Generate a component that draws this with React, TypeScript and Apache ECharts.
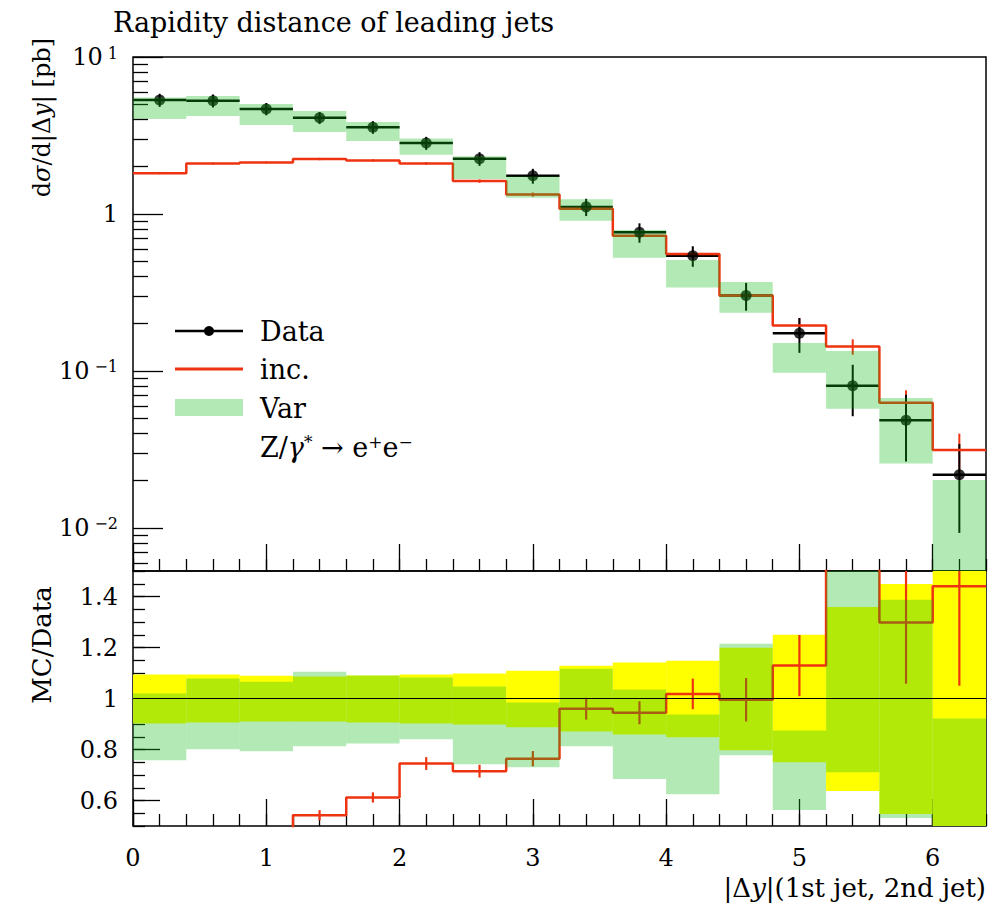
import React, { useEffect, useRef } from "react";
import * as echarts from "echarts";

// ---------------- data ----------------
const binLow = [0.0, 0.4, 0.8, 1.2, 1.6, 2.0, 2.4, 2.8, 3.2, 3.6, 4.0, 4.4, 4.8, 5.2, 5.6, 6.0];
const binHigh = [0.4, 0.8, 1.2, 1.6, 2.0, 2.4, 2.8, 3.2, 3.6, 4.0, 4.4, 4.8, 5.2, 5.6, 6.0, 6.4];
const binCenter = [0.2, 0.6, 1.0, 1.4, 1.8, 2.2, 2.6, 3.0, 3.4, 3.8, 4.2, 4.6, 5.0, 5.4, 5.8, 6.2];

const dataY = [5.32, 5.27, 4.67, 4.10, 3.57, 2.83, 2.25, 1.75, 1.11, 0.764, 0.542, 0.303, 0.174, 0.0805, 0.0485, 0.0218];
const dataErr = [0.51, 0.50, 0.42, 0.36, 0.33, 0.27, 0.225, 0.19, 0.14, 0.108, 0.081, 0.061, 0.0435, 0.029, 0.022, 0.0125];
const incY = [1.82, 2.10, 2.13, 2.24, 2.19, 2.10, 1.62, 1.33, 1.08, 0.728, 0.556, 0.302, 0.195, 0.143, 0.0628, 0.0314];
const incErr = [0.03, 0.03, 0.03, 0.04, 0.04, 0.04, 0.04, 0.04, 0.045, 0.035, 0.033, 0.026, 0.021, 0.016, 0.0125, 0.0085];
const varLow = [4.03, 4.21, 3.69, 3.33, 2.92, 2.38, 1.67, 1.27, 0.906, 0.527, 0.340, 0.235, 0.0975, 0.0575, 0.0257, 0.0005];
const varHigh = [5.53, 5.64, 5.02, 4.53, 3.86, 3.03, 2.33, 1.73, 1.24, 0.791, 0.509, 0.369, 0.151, 0.134, 0.0673, 0.0202];

// ratio panel (MC/Data)
const dataRelLow = [0.902, 0.906, 0.910, 0.910, 0.906, 0.902, 0.898, 0.887, 0.871, 0.859, 0.848, 0.797, 0.750, 0.637, 0.547, 0.430];
const dataRelHigh = [1.094, 1.094, 1.089, 1.086, 1.090, 1.094, 1.098, 1.109, 1.128, 1.141, 1.148, 1.199, 1.250, 1.359, 1.449, 1.570];
const varRatioLow = [0.758, 0.801, 0.793, 0.8125, 0.824, 0.840, 0.742, 0.730, 0.8125, 0.684, 0.625, 0.777, 0.5625, 0.711, 0.531, 0.0];
const varRatioHigh = [1.020, 1.078, 1.066, 1.105, 1.090, 1.082, 1.047, 0.984, 1.117, 1.035, 0.9375, 1.215, 0.875, 1.66, 1.387, 0.922];
const incRatio = [0.342, 0.398, 0.456, 0.542, 0.612, 0.745, 0.715, 0.764, 0.960, 0.944, 1.018, 0.995, 1.129, 1.78, 1.298, 1.440];
const incRatioErr = [0.01, 0.01, 0.012, 0.02, 0.02, 0.025, 0.025, 0.03, 0.043, 0.045, 0.06, 0.085, 0.12, 0.2, 0.24, 0.39];
const refLine = [[0, 1], [6.4, 1]];

// ticks / labels
const xMajorTicks = [0, 1, 2, 3, 4, 5, 6];
const xTickLabels = ["0", "1", "2", "3", "4", "5", "6"];
const yTopMajor = [-2, -1, 0, 1];
const yTopLabels = ["{b|10}{s|−2}", "{b|10}{s|−1}", "{b|1}", "{b|10}{s|1}"];
const yRatioMajor = [0.6, 0.8, 1.0, 1.2, 1.4];
const yRatioLabels = ["0.6", "0.8", "1", "1.2", "1.4"];

const X_MIN = 0;
const X_MAX = 6.4;
const Y_TOP_MIN = 0.00532;
const Y_TOP_MAX = 10;
const R_MIN = 0.5;
const R_MAX = 1.5;

// ---------------- style ----------------
const FONT = "DejaVu Serif";
const RED = "#ee3311";
const BAND = "rgba(19,188,25,0.32)";
const YELLOW = "#ffff00";

const lg = (v: number) => Math.log10(Math.max(v, 1e-6));

const xMinorTicks: number[] = [];
for (let i = 0; i <= 32; i++) xMinorTicks.push(Math.round(i * 0.2 * 1000) / 1000);
const yTopMinor: number[] = [];
for (let d = -3; d <= 0; d++) {
  for (let m = 2; m <= 9; m++) {
    const v = Math.log10(m) + d;
    if (v >= lg(Y_TOP_MIN) && v <= lg(Y_TOP_MAX)) yTopMinor.push(v);
  }
}
const yRatioMinor: number[] = [];
for (let i = 0; i <= 20; i++) yRatioMinor.push(Math.round((0.5 + i * 0.05) * 1000) / 1000);

function rectRender(fill: string) {
  return (params: any, api: any) => {
    const a = api.coord([api.value(0), api.value(3)]);
    const b = api.coord([api.value(1), api.value(2)]);
    const cs = params.coordSys;
    const shape = echarts.graphic.clipRectByRect(
      { x: a[0], y: a[1], width: b[0] - a[0], height: b[1] - a[1] },
      { x: cs.x, y: cs.y, width: cs.width, height: cs.height }
    );
    if (!shape) return { type: "group", children: [] };
    return { type: "rect", shape, style: { fill } };
  };
}

function errRender(color: string, lw: number, lwH: number, horiz: boolean) {
  return (params: any, api: any) => {
    const cs = params.coordSys;
    const r = { x: cs.x, y: cs.y, width: cs.width, height: cs.height };
    const x0 = api.value(0), x1 = api.value(1), xc = api.value(2);
    const v = api.value(3), lo = api.value(4), hi = api.value(5);
    const children: any[] = [];
    const pv = echarts.graphic.clipPointsByRect([api.coord([xc, lo]), api.coord([xc, hi])], r);
    if (Math.abs(pv[0][1] - pv[1][1]) > 0.5) {
      children.push({
        type: "line",
        shape: { x1: pv[0][0], y1: pv[0][1], x2: pv[1][0], y2: pv[1][1] },
        style: { stroke: color, lineWidth: lw },
      });
    }
    if (horiz) {
      const p = api.coord([x0, v]);
      const q = api.coord([x1, v]);
      if (p[1] >= cs.y && p[1] <= cs.y + cs.height) {
        children.push({
          type: "line",
          shape: { x1: p[0], y1: p[1], x2: q[0], y2: q[1] },
          style: { stroke: color, lineWidth: lwH },
        });
      }
    }
    return { type: "group", children };
  };
}

const txt = { color: "#000", fontFamily: FONT };

function xAxisDef(grid: number, major: boolean, labels: boolean) {
  return {
    type: "value",
    gridIndex: grid,
    min: X_MIN,
    max: X_MAX,
    position: "bottom",
    axisLine: { show: false, onZero: false },
    splitLine: { show: false },
    axisTick: {
      show: true,
      inside: true,
      length: major ? 27 : 12,
      customValues: major ? xMajorTicks : xMinorTicks,
      lineStyle: { color: "#000", width: 1.3 },
    },
    axisLabel: labels
      ? {
          show: true,
          customValues: xMajorTicks,
          formatter: (v: number) => xTickLabels[xMajorTicks.indexOf(Math.round(v))] ?? "",
          margin: 20,
          fontSize: 24,
          ...txt,
        }
      : { show: false },
  };
}

function yAxisDef(grid: number, min: number, max: number, ticks: number[], len: number, labels: any) {
  return {
    type: "value",
    gridIndex: grid,
    min,
    max,
    position: "left",
    axisLine: { show: false, onZero: false },
    splitLine: { show: false },
    axisTick: {
      show: true,
      inside: true,
      length: len,
      customValues: ticks,
      lineStyle: { color: "#000", width: 1.3 },
    },
    axisLabel: labels || { show: false },
  };
}

const option: any = {
  animation: false,
  backgroundColor: "#fff",
  grid: [
    { left: 133, top: 57, width: 853, height: 514, show: true, borderColor: "#000", borderWidth: 1.5, backgroundColor: "transparent" },
    { left: 133, top: 571, width: 853, height: 255, show: true, borderColor: "#000", borderWidth: 1.5, backgroundColor: "transparent" },
  ],
  xAxis: [
    xAxisDef(0, true, false),
    xAxisDef(0, false, false),
    xAxisDef(1, true, true),
    xAxisDef(1, false, false),
  ],
  yAxis: [
    yAxisDef(0, lg(Y_TOP_MIN), lg(Y_TOP_MAX), yTopMajor, 30, {
      show: true,
      customValues: yTopMajor,
      formatter: (v: number) => yTopLabels[yTopMajor.indexOf(Math.round(v))] ?? "",
      margin: 15,
      rich: {
        b: { fontSize: 24, ...txt, verticalAlign: "bottom" },
        s: { fontSize: 16, ...txt, verticalAlign: "top", padding: [0, 0, 0, 5] },
      },
    }),
    yAxisDef(0, lg(Y_TOP_MIN), lg(Y_TOP_MAX), yTopMinor, 15, null),
    yAxisDef(1, R_MIN, R_MAX, yRatioMajor, 27, {
      show: true,
      customValues: yRatioMajor,
      formatter: (v: number) => yRatioLabels[yRatioMajor.findIndex((t) => Math.abs(t - v) < 1e-6)] ?? "",
      margin: 15,
      fontSize: 24,
      ...txt,
    }),
    yAxisDef(1, R_MIN, R_MAX, yRatioMinor, 12, null),
  ],
  series: [
    // ---- top panel ----
    {
      type: "line",
      name: "inc.",
      xAxisIndex: 0,
      yAxisIndex: 0,
      step: "end",
      showSymbol: false,
      data: binLow.map((x, i) => [x, lg(incY[i])]).concat([[binHigh[15], lg(incY[15])]]),
      lineStyle: { color: RED, width: 2.5 },
      z: 2,
    },
    {
      type: "custom",
      name: "incErr",
      xAxisIndex: 0,
      yAxisIndex: 0,
      renderItem: errRender(RED, 2, 2, false),
      encode: { x: [0, 1, 2], y: [3, 4, 5] },
      data: binLow.map((x, i) => [x, binHigh[i], binCenter[i], lg(incY[i]), lg(incY[i] - incErr[i]), lg(incY[i] + incErr[i])]),
      z: 2,
    },
    {
      type: "custom",
      name: "dataErr",
      xAxisIndex: 0,
      yAxisIndex: 0,
      renderItem: errRender("#000", 2, 2.5, true),
      encode: { x: [0, 1, 2], y: [3, 4, 5] },
      data: binLow.map((x, i) => [x, binHigh[i], binCenter[i], lg(dataY[i]), lg(dataY[i] - dataErr[i]), lg(dataY[i] + dataErr[i])]),
      z: 2,
    },
    {
      type: "scatter",
      name: "Data",
      xAxisIndex: 0,
      yAxisIndex: 0,
      symbol: "circle",
      symbolSize: 11,
      itemStyle: { color: "#000" },
      data: binCenter.map((x, i) => [x, lg(dataY[i])]),
      z: 2,
    },
    {
      type: "custom",
      name: "Var",
      xAxisIndex: 0,
      yAxisIndex: 0,
      renderItem: rectRender(BAND),
      encode: { x: [0, 1], y: [2, 3] },
      data: binLow.map((x, i) => [x, binHigh[i], lg(varLow[i]), lg(varHigh[i])]),
      z: 3,
    },
    // ---- ratio panel ----
    {
      type: "custom",
      name: "dataBand",
      xAxisIndex: 2,
      yAxisIndex: 2,
      renderItem: rectRender(YELLOW),
      encode: { x: [0, 1], y: [2, 3] },
      data: binLow.map((x, i) => [x, binHigh[i], dataRelLow[i], dataRelHigh[i]]),
      z: 1,
    },
    {
      type: "line",
      name: "incRatio",
      xAxisIndex: 2,
      yAxisIndex: 2,
      step: "end",
      showSymbol: false,
      data: binLow.map((x, i) => [x, incRatio[i]]).concat([[binHigh[15], incRatio[15]]]),
      lineStyle: { color: RED, width: 2.5 },
      z: 2,
    },
    {
      type: "custom",
      name: "incRatioErr",
      xAxisIndex: 2,
      yAxisIndex: 2,
      renderItem: errRender(RED, 2.2, 2, false),
      encode: { x: [0, 1, 2], y: [3, 4, 5] },
      data: binLow.map((x, i) => [x, binHigh[i], binCenter[i], incRatio[i], incRatio[i] - incRatioErr[i], incRatio[i] + incRatioErr[i]]),
      z: 2,
    },
    {
      type: "custom",
      name: "VarRatio",
      xAxisIndex: 2,
      yAxisIndex: 2,
      renderItem: rectRender(BAND),
      encode: { x: [0, 1], y: [2, 3] },
      data: binLow.map((x, i) => [x, binHigh[i], varRatioLow[i], varRatioHigh[i]]),
      z: 3,
    },
    {
      type: "line",
      name: "ref",
      xAxisIndex: 2,
      yAxisIndex: 2,
      showSymbol: false,
      data: refLine,
      lineStyle: { color: "#000", width: 1.2 },
      z: 4,
    },
  ],
  graphic: [
    {
      type: "text",
      x: 113,
      y: 22,
      style: { text: "Rapidity distance of leading jets", fontSize: 27, fontFamily: FONT, fill: "#000", align: "left", verticalAlign: "middle" },
    },
    {
      type: "text",
      x: 42,
      y: 38,
      rotation: Math.PI / 2,
      style: {
        text: "d{i|σ}/d|Δ{i|y}| [pb]",
        fontSize: 24,
        fontFamily: FONT,
        fill: "#000",
        align: "right",
        verticalAlign: "middle",
        rich: { i: { fontSize: 24, fontFamily: FONT, fontStyle: "italic", fill: "#000" } },
      },
    },
    {
      type: "text",
      x: 42,
      y: 645,
      rotation: Math.PI / 2,
      style: { text: "MC/Data", fontSize: 26, fontFamily: FONT, fill: "#000", align: "center", verticalAlign: "middle" },
    },
    {
      type: "text",
      x: 986,
      y: 888,
      style: {
        text: "|Δ{i|y}|(1st jet, 2nd jet)",
        fontSize: 26,
        fontFamily: FONT,
        fill: "#000",
        align: "right",
        verticalAlign: "middle",
        rich: { i: { fontSize: 26, fontFamily: FONT, fontStyle: "italic", fill: "#000" } },
      },
    },
    // legend
    { type: "line", shape: { x1: 175, y1: 331, x2: 243, y2: 331 }, style: { stroke: "#000", lineWidth: 2.5 } },
    { type: "circle", shape: { cx: 209, cy: 331, r: 5 }, style: { fill: "#000" } },
    { type: "line", shape: { x1: 175, y1: 369, x2: 243, y2: 369 }, style: { stroke: RED, lineWidth: 3 } },
    { type: "rect", shape: { x: 175, y: 399, width: 68, height: 17 }, style: { fill: BAND } },
    { type: "text", x: 260, y: 331, style: { text: "Data", fontSize: 27, fontFamily: FONT, fill: "#000", verticalAlign: "middle" } },
    { type: "text", x: 260, y: 369, style: { text: "inc.", fontSize: 27, fontFamily: FONT, fill: "#000", verticalAlign: "middle" } },
    { type: "text", x: 260, y: 408, style: { text: "Var", fontSize: 27, fontFamily: FONT, fill: "#000", verticalAlign: "middle" } },
    {
      type: "text",
      x: 260,
      y: 447,
      style: {
        text: "{n|Z/}{i|γ}{s|*}{n| → e}{s|+}{n|e}{s|−}",
        fontSize: 27,
        fontFamily: FONT,
        fill: "#000",
        verticalAlign: "middle",
        rich: {
          n: { fontSize: 27, fontFamily: FONT, fill: "#000", verticalAlign: "bottom" },
          i: { fontSize: 27, fontFamily: FONT, fontStyle: "italic", fill: "#000", verticalAlign: "bottom" },
          s: { fontSize: 17, fontFamily: FONT, fill: "#000", verticalAlign: "top" },
        },
      },
    },
  ],
};

export default function App() {
  const ref = useRef<HTMLDivElement>(null);
  useEffect(() => {
    const chart = echarts.init(ref.current!, null, { renderer: "svg" });
    chart.setOption(option);
    return () => chart.dispose();
  }, []);
  return (
    <div
      ref={ref}
      style={{ position: "absolute", left: 0, top: 0, width: 990, height: 907, background: "#fff" }}
    />
  );
}
